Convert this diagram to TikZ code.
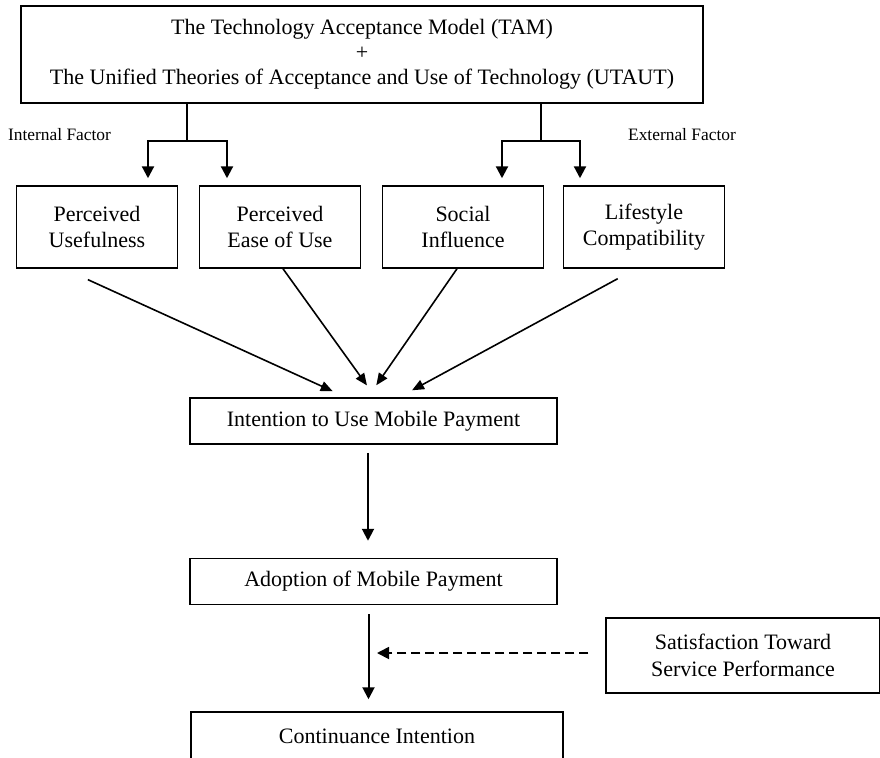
\documentclass[tikz,border=0pt]{standalone}
\usepackage{fontspec}
\setmainfont{Liberation Serif}
\usetikzlibrary{positioning,arrows.meta}

\begin{document}
\begin{tikzpicture}[
                x=0.5pt, y=-0.5pt,
                box/.style={draw, line width=0.75pt, align=center, inner sep=0pt,
                            font=\fontsize{11}{12.8}\selectfont},
                rowbox/.style={box, minimum width=80.5pt, minimum height=41pt},
                stepbox/.style={box, minimum width=183.5pt, minimum height=23pt},
                factor/.style={font=\fontsize{8.7}{10}\selectfont, inner sep=0pt},
                link/.style={line width=1.1pt},
                splitarr/.style={link, -{Triangle[length=6pt,width=6pt]}, shorten >=3.5pt},
                flow/.style={line width=0.8pt, -{Triangle[length=6pt,width=5pt]}, shorten >=7.3pt},
                mainarr/.style={line width=1pt, -{Triangle[length=6pt,width=6pt]}},
                hint/.style={line width=0.9pt, dash pattern=on 4.5pt off 2.5pt,
                             -{Triangle[length=6pt,width=6pt]}}
            ]
                \useasboundingbox (0,0) rectangle (880,757);
                \node[box, minimum width=341pt, minimum height=48.5pt,
                      font=\fontsize{11}{12.6}\selectfont] (tam) at (362,54.5)
                     {The Technology Acceptance Model (TAM)\\+\\The Unified Theories of Acceptance and Use of Technology (UTAUT)};
                \node[factor] (inf) at (59.5,135) {Internal Factor};
                \node[factor] (exf) at (682,135) {External Factor};
                \node[rowbox] (pu) at (97,227) {Perceived\\Usefulness};
                \node[rowbox] (pe) at (280,227) {Perceived\\Ease of Use};
                \node[rowbox] (si) at (463,227) {Social\\Influence};
                \node[rowbox] (lc) at (644,227) {Lifestyle\\Compatibility};
                \node[stepbox] (itu) at (373.5,421) {Intention to Use Mobile Payment};
                \node[stepbox, below=56.5pt of itu] (ado) {Adoption of Mobile Payment};
                \node[stepbox, minimum width=186pt, minimum height=24pt] (cin) at (377,736) {Continuance Intention};
                \node[box, minimum width=137pt, minimum height=37.5pt,
                      font=\fontsize{11}{13.4}\selectfont] (sat) at (743,655.5)
                     {Satisfaction Toward\\Service Performance};

                \coordinate (lj) at (187,141);
                \coordinate (rj) at (541,141);
                \draw[link] (tam.south -| lj) -- (lj);
                \draw[link] (tam.south -| rj) -- (rj);
                \draw[splitarr] (lj) -| ([xshift=25.5pt]pu.north);
                \draw[splitarr] (lj) -| ([xshift=-26.5pt]pe.north);
                \draw[splitarr] (rj) -| ([xshift=19.5pt]si.north);
                \draw[splitarr] (rj) -| ([xshift=-32pt]lc.north);

                \draw[flow, shorten <=13.1pt] ([xshift=-16.5pt]pu.south) -- ([xshift=-13.75pt]itu.north);
                \draw[flow] ([xshift=1.5pt]pe.south) -- ([xshift=1pt]itu.north);
                \draw[flow] ([xshift=-3pt]si.south) -- ([xshift=-2.75pt]itu.north);
                \draw[flow, shorten <=10.4pt] ([xshift=-4pt]lc.south) -- ([xshift=12.85pt]itu.north);

                \draw[mainarr, shorten <=4pt, shorten >=8.5pt] ([xshift=-2.75pt]itu.south) -- ([xshift=-2.75pt]ado.north);
                \draw[mainarr, shorten <=4.5pt, shorten >=6pt] ([xshift=-2.5pt]ado.south) -- ([xshift=-2.5pt]ado.south |- cin.north);
                \coordinate (hit) at (377,653);
                \draw[hint, shorten <=8.5pt] ([yshift=1.25pt]sat.west) -- (hit);
            \end{tikzpicture}
\end{document}
